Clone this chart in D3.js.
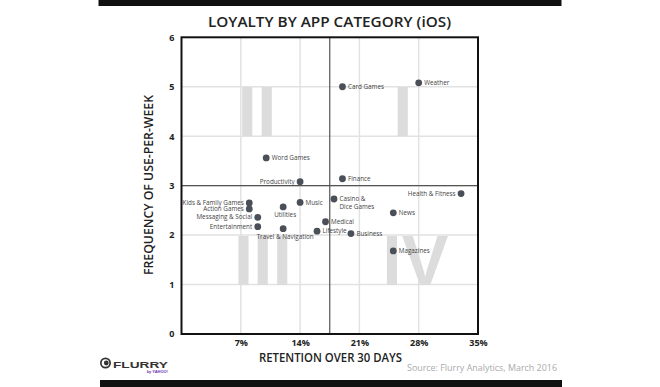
<!DOCTYPE html>
<html>
<head>
<meta charset="utf-8">
<script src="https://cdn.jsdelivr.net/npm/d3@7"></script>
<style>
  html, body { margin: 0; padding: 0; background: #fff; }
  svg { display: block; }
</style>
</head>
<body>
<svg id="chart" width="660" height="387"></svg>
<script>
// ---- data ----
const categories = ["Weather","Card Games","Finance","Health & Fitness","Word Games","Productivity",
  "Kids & Family Games","Action Games","Messaging & Social","Entertainment","Utilities","Music",
  "Travel & Navigation","Lifestyle","Medical","Casino & Dice Games","Business","News","Magazines"];
const retention = [28, 19, 19, 33, 10, 14, 8, 8, 9, 9, 12, 14, 12, 16, 17, 18, 20, 25, 25];
const frequency = [5.08, 5.0, 3.14, 2.84, 3.56, 3.08, 2.65, 2.53, 2.36, 2.17, 2.57, 2.66, 2.13, 2.08, 2.27, 2.73, 2.03, 2.45, 1.68];
const labelSide = ["right","right","right","left","right","left","left","left","left","left",
  "below","right","below","right","right","right","right","right","right"];
const xTicks = [7, 14, 21, 28, 35];
const yTicks = [0, 1, 2, 3, 4, 5, 6];
const xDivider = 17.5;
const yDivider = 3;

const svg = d3.select("#chart");
const plot = {left: 181.5, right: 478, top: 37.3, bottom: 334};
const x = d3.scaleLinear().domain([0, 35]).range([plot.left, plot.right]);
const y = d3.scaleLinear().domain([0, 6]).range([plot.bottom, plot.top]);

const sans = "'Open Sans', 'Liberation Sans', Arial, sans-serif";
const arialB = "'Liberation Sans', Arial, sans-serif";

// black bars
svg.append("rect").attr("x", 98.5).attr("y", 0).attr("width", 463).attr("height", 6).attr("fill", "#111");
svg.append("rect").attr("x", 100).attr("y", 380).attr("width", 462).attr("height", 7).attr("fill", "#111");

// title
svg.append("text").attr("x", 208).attr("y", 27.3)
  .attr("textLength", 243).attr("lengthAdjust", "spacingAndGlyphs")
  .attr("font-family", sans).attr("font-weight", 600).attr("font-size", 15).attr("fill", "#222")
  .text("LOYALTY BY APP CATEGORY (iOS)");

// gridlines
const g = svg.append("g");
g.selectAll(".vg").data(xTicks.filter(d => d < 35)).join("line")
  .attr("x1", d => x(d)).attr("x2", d => x(d)).attr("y1", plot.top).attr("y2", plot.bottom)
  .attr("stroke", "#e2e2e2").attr("stroke-width", 1.5);
g.selectAll(".hg").data(yTicks.filter(d => d > 0 && d < 6)).join("line")
  .attr("y1", d => y(d)).attr("y2", d => y(d)).attr("x1", plot.left).attr("x2", plot.right)
  .attr("stroke", "#e2e2e2").attr("stroke-width", 1.5);

// roman numerals
const numerals = [
  {t: "II", xv: 8.9, yv: 4}, {t: "I", xv: 26.1, yv: 4},
  {t: "III", xv: 9.6, yv: 1}, {t: "IV", xv: 27.6, yv: 1}
];
g.selectAll(".num").data(numerals).join("text")
  .attr("x", d => x(d.xv)).attr("y", d => y(d.yv))
  .attr("text-anchor", "middle")
  .attr("font-family", arialB).attr("font-weight", "bold").attr("font-size", 70)
  .attr("fill", "#dcdcdc").text(d => d.t);

// quadrant dividers
g.append("line").attr("x1", x(xDivider)).attr("x2", x(xDivider)).attr("y1", plot.top).attr("y2", plot.bottom)
  .attr("stroke", "#555").attr("stroke-width", 1.2);
g.append("line").attr("y1", y(yDivider)).attr("y2", y(yDivider)).attr("x1", plot.left).attr("x2", plot.right)
  .attr("stroke", "#555").attr("stroke-width", 1.2);

// frame
g.append("rect").attr("x", plot.left).attr("y", plot.top)
  .attr("width", plot.right - plot.left).attr("height", plot.bottom - plot.top)
  .attr("fill", "none").attr("stroke", "#111").attr("stroke-width", 2);

// axes tick labels
const xAxis = d3.axisBottom(x).tickValues(xTicks).tickFormat(d => d + "%").tickSize(0).tickPadding(0);
const xa = svg.append("g").attr("transform", `translate(0,${plot.bottom + 12})`).call(xAxis);
xa.select(".domain").remove();
xa.selectAll("text").attr("font-family", sans).attr("font-weight", 700).attr("font-size", 9).attr("fill", "#222").attr("dy", "0");

const yAxis = d3.axisLeft(y).tickValues(yTicks).tickFormat(d3.format("d")).tickSize(0).tickPadding(7);
const ya = svg.append("g").attr("transform", `translate(${plot.left},0)`).call(yAxis);
ya.select(".domain").remove();
ya.selectAll("text").attr("font-family", sans).attr("font-weight", 700).attr("font-size", 9).attr("fill", "#222");

// axis titles
svg.append("text").attr("x", 259).attr("y", 361.5)
  .attr("textLength", 143).attr("lengthAdjust", "spacingAndGlyphs")
  .attr("font-family", sans).attr("font-weight", 600).attr("font-size", 12).attr("fill", "#222")
  .text("RETENTION OVER 30 DAYS");
svg.append("text").attr("transform", "translate(153,275) rotate(-90)")
  .attr("textLength", 180).attr("lengthAdjust", "spacingAndGlyphs")
  .attr("font-family", sans).attr("font-weight", 600).attr("font-size", 12).attr("fill", "#222")
  .text("FREQUENCY OF USE-PER-WEEK");

// points
const pts = svg.append("g");
const data = categories.map((c, i) => ({c, xv: retention[i], yv: frequency[i], side: labelSide[i]}));
pts.selectAll("circle").data(data).join("circle")
  .attr("cx", d => x(d.xv)).attr("cy", d => y(d.yv)).attr("r", 3.4).attr("fill", "#4a4f58");

const lbl = pts.selectAll(".lbl").data(data).join("text")
  .attr("font-family", sans).attr("font-size", 6.3).attr("fill", "#444")
  .attr("x", d => d.side === "right" ? x(d.xv) + 5.5 : d.side === "left" ? x(d.xv) - 5.5 : x(d.xv) + 2)
  .attr("y", d => d.side === "below" ? y(d.yv) + 10.5 : y(d.yv) + 2.2)
  .attr("text-anchor", d => d.side === "right" ? "start" : d.side === "left" ? "end" : "middle");
lbl.each(function(d) {
  const t = d3.select(this);
  if (d.c === "Casino & Dice Games") {
    t.append("tspan").attr("x", x(d.xv) + 5.5).text("Casino &");
    t.append("tspan").attr("x", x(d.xv) + 5.5).attr("dy", 7.5).text("Dice Games");
  } else {
    t.text(d.c);
  }
});

// source
svg.append("text").attr("x", 407).attr("y", 371)
  .attr("textLength", 150).attr("lengthAdjust", "spacingAndGlyphs")
  .attr("font-family", sans).attr("font-size", 8.5).attr("fill", "#aaa")
  .text("Source: Flurry Analytics, March 2016");

// logo
const logo = svg.append("g");
logo.append("circle").attr("cx", 105.5).attr("cy", 363).attr("r", 5.5).attr("fill", "#333");
logo.append("circle").attr("cx", 105.5).attr("cy", 363).attr("r", 3.8).attr("fill", "#fff");
logo.append("circle").attr("cx", 106.3).attr("cy", 363).attr("r", 2.4).attr("fill", "#333");
logo.append("text").attr("x", 113).attr("y", 367.5)
  .attr("textLength", 55).attr("lengthAdjust", "spacingAndGlyphs")
  .attr("font-family", arialB).attr("font-weight", "900").attr("font-size", 9.5).attr("fill", "#333")
  .text("FLURRY");
logo.append("text").attr("x", 168).attr("y", 372.5).attr("text-anchor", "end")
  .attr("font-family", arialB).attr("font-weight", "bold").attr("font-size", 4).attr("fill", "#6a2fb0")
  .text("by YAHOO!");
</script>
</body>
</html>
